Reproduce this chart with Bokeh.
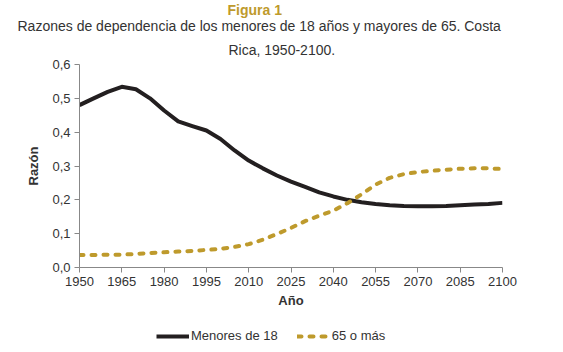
from bokeh.plotting import figure
from bokeh.layouts import column
from bokeh.models import ColumnDataSource, FixedTicker, Legend, LegendItem, Title
from bokeh.embed import file_html
from bokeh.resources import INLINE

years = [1950, 1955, 1960, 1965, 1970, 1975, 1980, 1985, 1990, 1995, 2000,
         2005, 2010, 2015, 2020, 2025, 2030, 2035, 2040, 2045, 2050, 2055,
         2060, 2065, 2070, 2075, 2080, 2085, 2090, 2095, 2100]
menores_18 = [0.480, 0.500, 0.519, 0.534, 0.527, 0.500, 0.464, 0.432, 0.418, 0.405, 0.380,
              0.346, 0.316, 0.293, 0.272, 0.254, 0.238, 0.222, 0.210, 0.200, 0.193, 0.188,
              0.184, 0.182, 0.181, 0.181, 0.182, 0.184, 0.186, 0.188, 0.191]
mayores_65 = [0.037, 0.037, 0.038, 0.038, 0.040, 0.043, 0.045, 0.047, 0.049, 0.052, 0.055,
              0.061, 0.069, 0.082, 0.099, 0.117, 0.137, 0.153, 0.168, 0.190, 0.216, 0.245,
              0.265, 0.276, 0.282, 0.286, 0.289, 0.292, 0.293, 0.293, 0.291]
x_ticks = [1950, 1965, 1980, 1995, 2010, 2025, 2040, 2055, 2070, 2085, 2100]
y_ticks = [0.0, 0.1, 0.2, 0.3, 0.4, 0.5, 0.6]
y_tick_labels = ["0,0", "0,1", "0,2", "0,3", "0,4", "0,5", "0,6"]
series_names = ["Menores de 18", "65 o más"]
title_text = "Figura 1"
subtitle_lines = ["Razones de dependencia de los menores de 18 años y mayores de 65. Costa",
                  "Rica, 1950-2100."]

FONT = "Liberation Sans"
BLACK = "#231F20"
GOLD = "#BE9A2C"
TXT = "#333333"
AXIS = "#888888"

source = ColumnDataSource(dict(year=years, m18=menores_18, m65=mayores_65))

# ---------------- main chart ----------------
p = figure(frame_width=423, frame_height=203, output_backend="svg", toolbar_location=None,
           x_range=(1950, 2100), y_range=(0, 0.6),
           min_border_left=79, min_border_right=61, min_border_top=64, min_border_bottom=53)
p.outline_line_color = None
p.xgrid.grid_line_color = None
p.ygrid.grid_line_color = None
p.background_fill_color = "white"
p.border_fill_color = "white"

p.line("year", "m18", source=source, line_color=BLACK, line_width=4, line_join="round")
p.line("year", "m65", source=source, line_color=GOLD, line_width=4,
       line_dash="4 8", line_cap="round")

for ax in (p.xaxis[0], p.yaxis[0]):
    ax.axis_line_color = AXIS
    ax.major_tick_line_color = AXIS
    ax.major_tick_out = 5
    ax.major_tick_in = 0
    ax.minor_tick_line_color = None
    ax.major_label_text_font = FONT
    ax.major_label_text_font_size = "13px"
    ax.major_label_text_color = TXT
    ax.axis_label_text_font = FONT
    ax.axis_label_text_font_size = "13px"
    ax.axis_label_text_font_style = "bold"
    ax.axis_label_text_color = TXT

p.xaxis.ticker = FixedTicker(ticks=x_ticks)
p.yaxis.ticker = FixedTicker(ticks=y_ticks)
p.yaxis.major_label_overrides = {t: l for t, l in zip(y_ticks, y_tick_labels)}
p.xaxis.axis_label = "Año"
p.yaxis.axis_label = "Razón"
p.xaxis.major_label_standoff = 4
p.xaxis.axis_label_standoff = 4
p.yaxis.major_label_standoff = 4
p.yaxis.axis_label_standoff = 8

# p.title is outermost; added titles stack outward from the frame
p.title.text = title_text
p.title.align = "left"
p.title.offset = 148
p.title.standoff = -2
p.title.text_font = FONT
p.title.text_font_size = "14px"
p.title.text_font_style = "bold"
p.title.text_color = GOLD
p.add_layout(Title(text=subtitle_lines[1], align="left", offset=149, standoff=13,
                   text_font=FONT, text_font_size="14px", text_font_style="normal",
                   text_color=TXT), "above")
p.add_layout(Title(text=subtitle_lines[0], align="left", offset=-62, standoff=-1,
                   text_font=FONT, text_font_size="14px", text_font_style="normal",
                   text_color=TXT), "above")

# ---------------- legend strip ----------------
q = figure(width=563, height=32, output_backend="svg", toolbar_location=None,
           x_range=(0, 1), y_range=(0, 1), x_axis_location=None, y_axis_location=None,
           min_border=0)
q.outline_line_color = None
q.xgrid.grid_line_color = None
q.ygrid.grid_line_color = None
q.background_fill_color = "white"
q.border_fill_color = "white"
l1 = q.line("year", "m18", source=source, line_color=BLACK, line_width=4, line_join="round")
l2 = q.line("year", "m65", source=source, line_color=GOLD, line_width=4,
            line_dash="4 8", line_cap="round")

legend = Legend(items=[LegendItem(label=series_names[0], renderers=[l1]),
                       LegendItem(label=series_names[1], renderers=[l2])],
                orientation="horizontal", location=(77, 9),
                glyph_width=33, glyph_height=12, label_standoff=2, spacing=19,
                padding=0, margin=0, border_line_color=None, background_fill_alpha=0,
                label_text_font=FONT, label_text_font_size="13px", label_text_color=TXT)
q.add_layout(legend, "center")

layout = column(p, q, spacing=0)
open("out.html", "w").write(file_html(layout, INLINE))
